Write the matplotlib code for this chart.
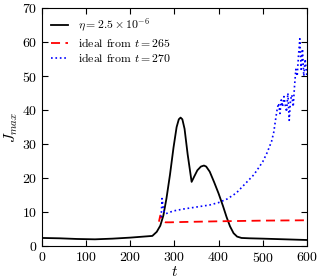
import numpy as np
from matplotlib import pyplot as plt

plt.rcParams['font.family'] = 'cmr10'
plt.rcParams['mathtext.fontset'] = 'cm'
plt.rcParams['axes.formatter.use_mathtext'] = True

# resistive run
t_res = [0, 40, 80, 120, 160, 200, 250, 260, 268, 275, 282, 290, 298, 305, 310, 314, 318, 323, 330,
         339, 345, 352, 360, 367, 372, 380, 390, 400, 410, 418, 426, 434, 442, 452, 470, 500, 550, 600]
j_res = [2.4, 2.3, 2.1, 2.0, 2.2, 2.5, 3.0, 4.2, 6.0, 9.0, 14.0, 21.0, 29.0, 35.0, 37.3, 37.8, 37.3, 34.5, 27.0,
         18.9, 20.5, 22.3, 23.4, 23.7, 23.4, 21.9, 18.8, 15.5, 11.8, 8.6, 5.8, 3.8, 2.8, 2.4, 2.3, 2.2, 2.0, 1.8]

# ideal run restarted at t = 265
t_id1 = [265, 268, 271, 275, 280, 290, 320, 400, 500, 600]
j_id1 = [7.2, 9.0, 8.2, 7.4, 7.0, 7.0, 7.1, 7.3, 7.5, 7.6]

# ideal run restarted at t = 270
t_id2 = [270, 272, 274, 276, 280, 290, 300, 320, 340, 360, 380, 400, 420, 440, 460, 480, 500, 510,
         520, 525, 530, 533, 536, 539, 542, 545, 548, 551, 554, 557, 560, 563, 566, 569, 572, 575,
         578, 581, 584, 587, 590, 593, 596, 600]
j_id2 = [8.5, 14.0, 12.0, 10.2, 9.5, 10.0, 10.4, 10.9, 11.3, 11.7, 12.1, 12.8, 13.9, 15.6, 18.3, 21.0, 24.8, 27.5,
         30.8, 33.5, 38.0, 40.5, 42.0, 39.0, 43.0, 41.0, 44.0, 41.5, 39.5, 45.0, 37.0, 43.0, 44.5, 41.0, 47.0, 52.0,
         50.0, 56.0, 61.0, 52.0, 58.0, 50.0, 55.0, 50.0]

fig = plt.figure(figsize=(3.2, 2.8), dpi=100)
ax = fig.add_axes([0.131, 0.121, 0.828, 0.85])

ax.plot(t_res, j_res, color='black', lw=1.3, label=r'$\eta = 2.5 \times 10^{-6}$')
ax.plot(t_id1, j_id1, color='red', lw=1.3, ls='--', dashes=(5, 3), label=r'ideal from $t = 265$')
ax.plot(t_id2, j_id2, color='blue', lw=1.2, ls=':', label=r'ideal from $t = 270$')

ax.set_xlim(0, 600)
ax.set_ylim(0, 70)
ax.set_xticks(np.arange(0, 601, 100))
ax.set_yticks(np.arange(0, 71, 10))
ax.tick_params(direction='in', top=True, right=True, length=4, labelsize=10)
ax.set_xlabel(r'$t$', fontsize=11, labelpad=0)
ax.set_ylabel(r'$J_{max}$', fontsize=11, labelpad=1)
ax.legend(loc='upper left', frameon=False, fontsize=8.5, handlelength=1.5,
          labelspacing=0.15, borderaxespad=0.35)

plt.savefig('out.png', dpi=100)
